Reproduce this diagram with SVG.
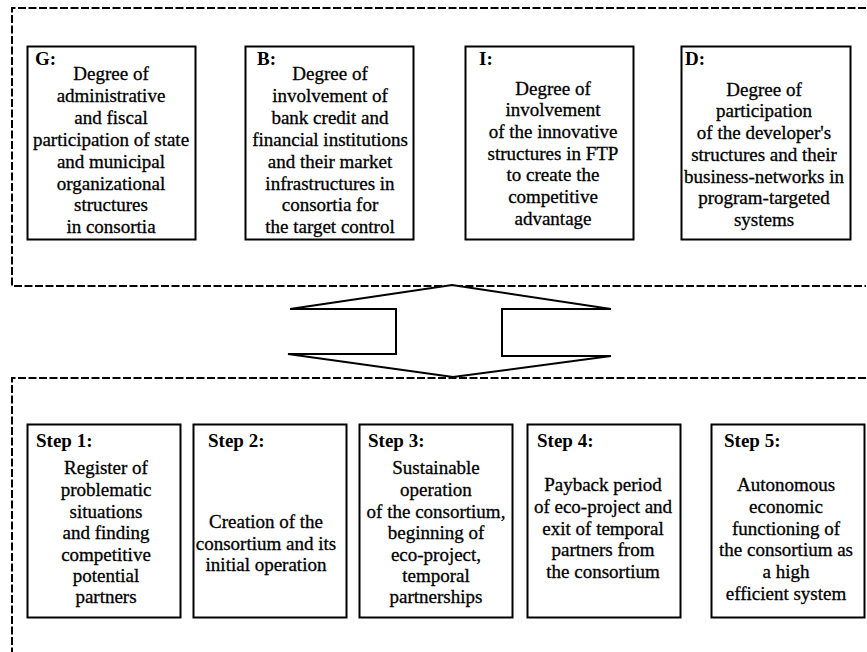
<svg xmlns="http://www.w3.org/2000/svg" width="867" height="652" viewBox="0 0 867 652">
<style>
.frame{fill:none;stroke:#000;stroke-width:2;stroke-dasharray:8 2.5}
.box{fill:#fff;stroke:#000;stroke-width:2}
.lbl{font-family:"Liberation Serif","Times New Roman",Times,serif;font-size:19px;font-weight:bold;fill:#000}
.txt{font-family:"Liberation Serif","Times New Roman",Times,serif;font-size:19px;fill:#000;stroke:#000;stroke-width:0.3;text-anchor:middle}
.arrow{fill:#fff;stroke:#000;stroke-width:2;stroke-linejoin:miter}
</style>
<rect width="867" height="652" fill="#fff"/>
<g id="frames">
<path class="frame" d="M866 8 H12 V286 H866"/>
<path class="frame" d="M866 378 H12 V652"/>
</g>
<g id="connectors">
<polygon class="arrow" points="290,309 452,285 611,309 502,309 502,356 611,356 453,377 288,354 396,354 396,309"/>
</g>
<g id="node-G">
<rect class="box" x="27.5" y="46.5" width="168" height="193"/>
<text class="lbl" x="35" y="65">G:</text>
<text class="txt"><tspan x="111" y="80">Degree of</tspan><tspan x="111" y="102">administrative</tspan><tspan x="111" y="124">and fiscal</tspan><tspan x="111" y="145.5">participation of state</tspan><tspan x="111" y="167.5">and municipal</tspan><tspan x="111" y="189.5">organizational</tspan><tspan x="111" y="211">structures</tspan><tspan x="111" y="233">in consortia</tspan></text>
</g>
<g id="node-B">
<rect class="box" x="245.5" y="46.5" width="168" height="193"/>
<text class="lbl" x="257" y="65">B:</text>
<text class="txt"><tspan x="330" y="80">Degree of</tspan><tspan x="330" y="102">involvement of</tspan><tspan x="330" y="124">bank credit and</tspan><tspan x="330" y="145.5">financial institutions</tspan><tspan x="330" y="167.5">and their market</tspan><tspan x="330" y="189.5">infrastructures in</tspan><tspan x="330" y="211">consortia for</tspan><tspan x="330" y="233">the target control</tspan></text>
</g>
<g id="node-I">
<rect class="box" x="465.5" y="46.5" width="168" height="193"/>
<text class="lbl" x="479" y="65">I:</text>
<text class="txt"><tspan x="553" y="94.5">Degree of</tspan><tspan x="553" y="116">involvement</tspan><tspan x="553" y="138">of the innovative</tspan><tspan x="553" y="159.5">structures in FTP</tspan><tspan x="553" y="181">to create the</tspan><tspan x="553" y="203">competitive</tspan><tspan x="553" y="224.5">advantage</tspan></text>
</g>
<g id="node-D">
<rect class="box" x="681.5" y="46.5" width="169" height="193"/>
<text class="lbl" x="685" y="65">D:</text>
<text class="txt"><tspan x="764" y="95.5">Degree of</tspan><tspan x="764" y="117">participation</tspan><tspan x="764" y="139">of the developer's</tspan><tspan x="764" y="160.5">structures and their</tspan><tspan x="764" y="182.5">business-networks in</tspan><tspan x="764" y="204">program-targeted</tspan><tspan x="764" y="226">systems</tspan></text>
</g>
<g id="node-step1">
<rect class="box" x="27.5" y="424.5" width="153" height="193"/>
<text class="lbl" x="36" y="447">Step 1:</text>
<text class="txt"><tspan x="106" y="474">Register of</tspan><tspan x="106" y="496">problematic</tspan><tspan x="106" y="517.5">situations</tspan><tspan x="106" y="539">and finding</tspan><tspan x="106" y="561">competitive</tspan><tspan x="106" y="582">potential</tspan><tspan x="106" y="603">partners</tspan></text>
</g>
<g id="node-step2">
<rect class="box" x="193.5" y="424.5" width="153" height="193"/>
<text class="lbl" x="208" y="447">Step 2:</text>
<text class="txt"><tspan x="266" y="528">Creation of the</tspan><tspan x="266" y="549.5">consortium and its</tspan><tspan x="266" y="571">initial operation</tspan></text>
</g>
<g id="node-step3">
<rect class="box" x="359.5" y="424.5" width="153" height="193"/>
<text class="lbl" x="368" y="447">Step 3:</text>
<text class="txt"><tspan x="436" y="474">Sustainable</tspan><tspan x="436" y="496">operation</tspan><tspan x="436" y="517.5">of the consortium,</tspan><tspan x="436" y="539">beginning of</tspan><tspan x="436" y="561">eco-project,</tspan><tspan x="436" y="582">temporal</tspan><tspan x="436" y="603">partnerships</tspan></text>
</g>
<g id="node-step4">
<rect class="box" x="527.5" y="424.5" width="153" height="193"/>
<text class="lbl" x="537" y="447">Step 4:</text>
<text class="txt"><tspan x="603" y="491">Payback period</tspan><tspan x="603" y="513">of eco-project and</tspan><tspan x="603" y="534.5">exit of temporal</tspan><tspan x="603" y="556">partners from</tspan><tspan x="603" y="578">the consortium</tspan></text>
</g>
<g id="node-step5">
<rect class="box" x="711.5" y="424.5" width="153" height="193"/>
<text class="lbl" x="724" y="447">Step 5:</text>
<text class="txt"><tspan x="786" y="491">Autonomous</tspan><tspan x="786" y="513">economic</tspan><tspan x="786" y="534.5">functioning of</tspan><tspan x="786" y="556">the consortium as</tspan><tspan x="786" y="578">a high</tspan><tspan x="786" y="599.5">efficient system</tspan></text>
</g>
</svg>
